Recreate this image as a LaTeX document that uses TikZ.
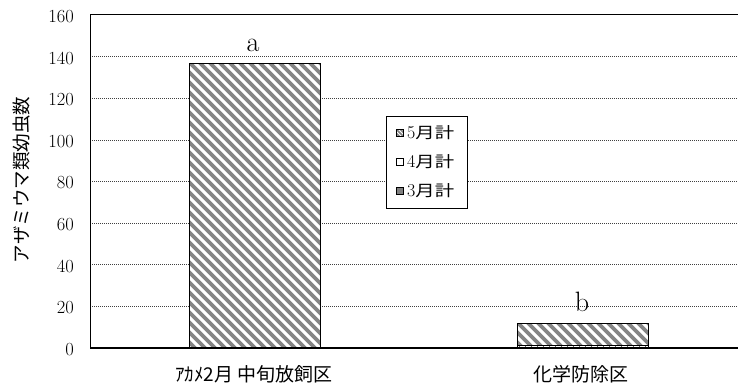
\documentclass[tikz,border=0pt]{standalone}
\usepackage{fontspec}
\newfontfamily\cjk{Noto Sans CJK JP}
\newfontfamily\cjkw[FakeStretch=1.25]{Noto Sans CJK JP}
\tikzset{
  grid/.style={black!75, line width=0.7pt, dash pattern=on 1pt off 1pt},
  frame/.style={black, line width=1pt},
  hatchline/.style={black!48, line width=3.6pt},
  barbox/.style={black, line width=0.8pt},
  tick/.style={anchor=east, inner sep=0pt, font=\fontsize{18.5}{18.5}\selectfont},
  letter/.style={anchor=base, inner sep=0pt, font=\fontsize{28}{28}\selectfont},
  catlabel/.style={inner sep=0pt, font=\cjk\fontsize{19}{19}\selectfont},
  legtext/.style={anchor=west, inner sep=0pt, font=\fontsize{18}{18}\selectfont},
  legmark/.style={draw=black, line width=0.7pt, minimum size=7pt, inner sep=0pt},
}
\begin{document}
\begin{tikzpicture}[x=1pt,y=1pt]
\useasboundingbox (0,0) rectangle (738,385);
\fill[white] (0,0) rectangle (738,385);
% gridlines
\foreach \v in {20,40,...,140}{
  \draw[grid] (90,{37+2.08125*\v}) -- (738,{37+2.08125*\v});
}
% tick labels
\foreach \v in {0,20,...,160}{
  \node[tick] (t\v) at (74,{35.5+2.08125*\v}) {\v};
}
% bar 1 (5月計)
\fill[white] (189,37) rectangle (320,321.7);
\begin{scope}
  \clip (189,37) rectangle (320,321.7);
  \foreach \i in {-30,...,14}{
    \draw[hatchline] ({189+10*\i},323) -- ++(300,-300);
  }
\end{scope}
\draw[barbox] (189,37) rectangle (320,321.7);
% bar 2 (4月計 + 5月計)
\fill[white] (517,37) rectangle (648,61.5);
\begin{scope}
  \clip (517,40) rectangle (648,61.5);
  \foreach \i in {-4,...,14}{
    \draw[hatchline] ({517+10*\i},63) -- ++(40,-40);
  }
\end{scope}
\draw[black!60, line width=0.8pt, dash pattern=on 1pt off 5pt] (519,38.3) -- (648,38.3);
\draw[barbox] (517,37) rectangle (648,40);
\draw[barbox] (517,40) rectangle (648,61.5);
% frame
\draw[frame] (90,37) -- (90,370) -- (738,370);
\draw[black, line width=1.6pt] (90,37) -- (738,37);
% letters
\node[letter] (la) at (253,333) {a};
\node[letter] (lb) at (582,73) {b};
% category labels
\node[catlabel] (c1) at (254,11) {ｱｶﾒ2月 中旬放飼区};
\node[catlabel] (c2) at (581,11) {化学防除区};
% y axis label
\node[rotate=90, inner sep=0pt, font=\cjk\fontsize{18.5}{18.5}\selectfont] (yl) at (22,205) {アザミウマ類幼虫数};
% legend
\draw[draw=black, fill=white, line width=0.8pt] (386,177) rectangle (467,269);
\node[legmark, fill=white] (m5) at (399.5,252) {};
\begin{scope}
  \clip (396,248.5) rectangle (403,255.5);
  \foreach \i in {-1,...,2}{
    \draw[black!50, line width=1.6pt] ({396+4*\i},256) -- ++(8,-8);
  }
\end{scope}
\draw[black, line width=0.7pt] (396,248.5) rectangle (403,255.5);
\node[legmark, fill=white] (m4) at (399.5,223.3) {};
\node[legmark, fill=black!50] (m3) at (399.5,194.3) {};
\node[legtext] (l5) at (407,252) {5{\cjkw\fontsize{15.5}{15.5}\selectfont 月計}};
\node[legtext] (l4) at (407,223.3) {4{\cjkw\fontsize{15.5}{15.5}\selectfont 月計}};
\node[legtext] (l3) at (407,194.3) {3{\cjkw\fontsize{15.5}{15.5}\selectfont 月計}};
\end{tikzpicture}
\end{document}
